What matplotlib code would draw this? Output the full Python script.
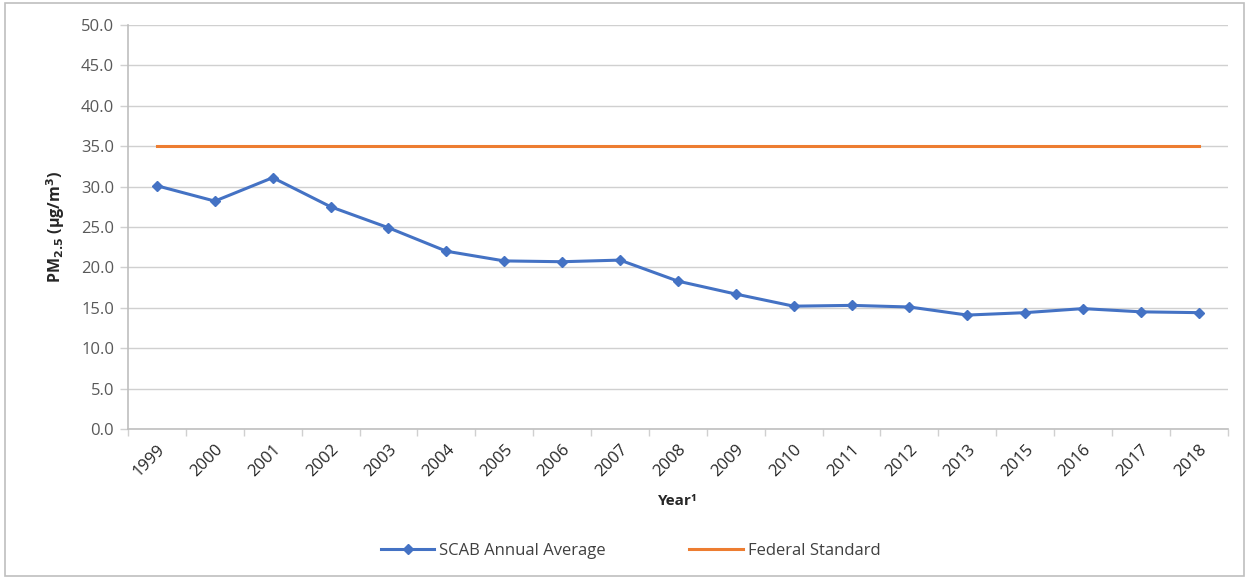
import matplotlib
matplotlib.use('Agg')
import matplotlib.pyplot as plt
import matplotlib.ticker as ticker
from matplotlib.patches import Rectangle

# ── data ─────────────────────────────────────────────────────────────────────
YEARS = ['1999', '2000', '2001', '2002', '2003', '2004', '2005', '2006', '2007',
         '2008', '2009', '2010', '2011', '2012', '2013', '2015', '2016', '2017',
         '2018']
SCAB_AVG = [30.1, 28.2, 31.1, 27.5, 24.9, 22.0, 20.8, 20.7, 20.9,
            18.3, 16.7, 15.2, 15.3, 15.1, 14.1, 14.4, 14.9, 14.5, 14.4]
FEDERAL_STD = [35.0] * len(YEARS)
Y_TICKS = [0, 5, 10, 15, 20, 25, 30, 35, 40, 45, 50]

BLUE = '#4472C4'
ORANGE = '#ED7D31'
GRID = '#D0D0D0'
TICK_TXT = '#595959'

plt.rcParams['font.family'] = ['Open Sans', 'DejaVu Sans']

fig = plt.figure(figsize=(12.49, 5.79), dpi=100)
ax = fig.add_axes([0.1025, 0.259, 0.8805, 0.698])

# outer frame of the chart object
fig.patches.append(Rectangle((0.004, 0.006), 0.992, 0.988, transform=fig.transFigure,
                             fill=False, edgecolor='#BFBFBF', linewidth=1.2))

x = list(range(len(YEARS)))
ax.plot(x, SCAB_AVG, color=BLUE, linewidth=2.2, marker='D', markersize=5.5,
        label='SCAB Annual Average', zorder=3)
ax.plot(x, FEDERAL_STD, color=ORANGE, linewidth=2.2, label='Federal Standard', zorder=3)

ax.set_xlim(-0.5, len(YEARS) - 0.5)
ax.set_ylim(0, 50)
ax.set_yticks(Y_TICKS)
ax.yaxis.set_major_formatter(ticker.FormatStrFormatter('%.1f'))
ax.set_xticks(x)
ax.set_xticklabels(YEARS, rotation=45, ha='right', rotation_mode='anchor')
ax.xaxis.set_minor_locator(ticker.FixedLocator([i - 0.5 for i in range(len(YEARS) + 1)]))
ax.tick_params(axis='x', which='major', length=0, pad=9, labelsize=12, labelcolor='#262626')
ax.tick_params(axis='x', which='minor', length=5, color=GRID, width=1)
ax.tick_params(axis='y', length=6, color=GRID, width=1, labelsize=12, labelcolor=TICK_TXT, pad=4)

ax.grid(True, axis='y', color=GRID, linewidth=1)
ax.set_axisbelow(True)
for side in ('top', 'right'):
    ax.spines[side].set_visible(False)
for side in ('left', 'bottom'):
    ax.spines[side].set_color('#BFBFBF')
    ax.spines[side].set_linewidth(1.2)

ax.set_ylabel('PM$_{\\mathbf{2.5}}$ (µg/m$^{\\mathbf{3}}$)', fontsize=11.5, fontweight='bold',
              color='#262626', labelpad=10)
ax.set_xlabel('Year¹', fontsize=11, fontweight='bold', color='#262626', labelpad=10)

fig.legend(loc='center', bbox_to_anchor=(0.505, 0.048), ncol=2, frameon=False,
           fontsize=12, handlelength=3.2, handletextpad=0.3, columnspacing=5,
           labelcolor='#404040')

fig.savefig('out.png', dpi=100)
